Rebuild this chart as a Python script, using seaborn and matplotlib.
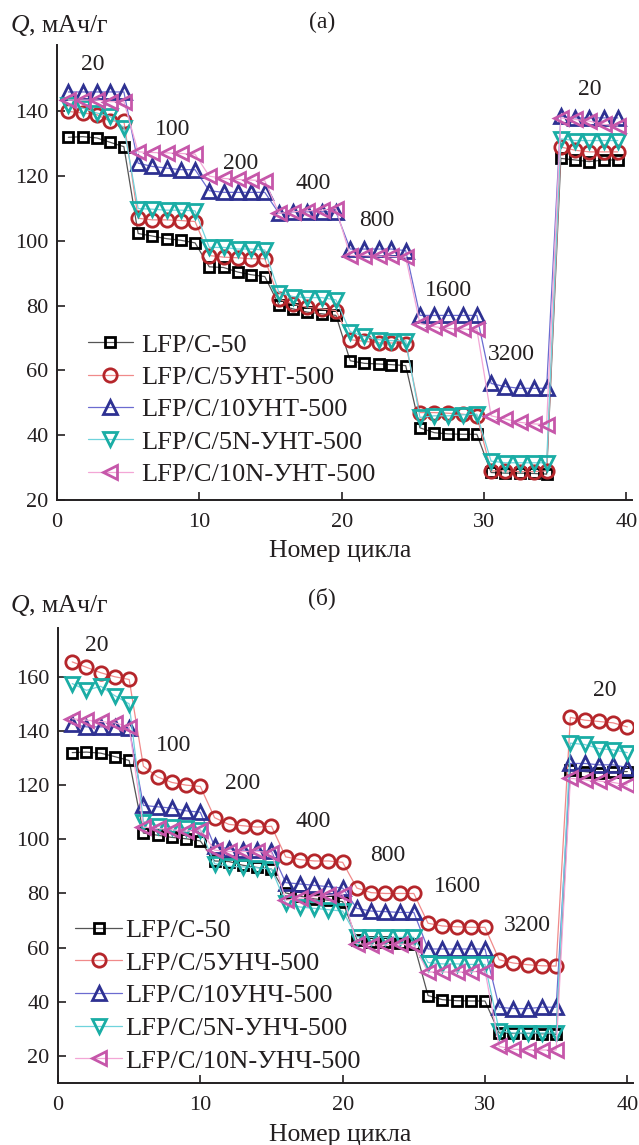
import numpy as np
import matplotlib
matplotlib.use("Agg")
import matplotlib.pyplot as plt
import seaborn as sns

# ---------------- data ----------------
cycles = list(range(1, 41))
# positions of cycles as they appear in panel (a)
cycle_pos_a = [0.8, 1.8, 2.8, 3.7, 4.7, 5.7, 6.7, 7.7, 8.7, 9.7,
               10.7, 11.7, 12.7, 13.6, 14.6, 15.6, 16.6, 17.6, 18.6, 19.6,
               20.6, 21.6, 22.6, 23.5, 24.5, 25.5, 26.5, 27.5, 28.5, 29.5,
               30.5, 31.5, 32.5, 33.5, 34.4, 35.4, 36.4, 37.4, 38.4, 39.4]

rate_labels = ["20", "100", "200", "400", "800", "1600", "3200", "20"]
rate_x_a = [2.5, 8.1, 12.9, 18.0, 22.5, 27.5, 31.9, 37.4]
rate_y_a = [154.5, 134.3, 124.0, 117.8, 106.4, 84.7, 64.9, 146.7]
rate_x_b = [2.75, 8.1, 12.95, 17.95, 23.2, 28.1, 33.0, 38.4]
rate_y_b = [171.7, 134.8, 120.6, 106.5, 94.2, 82.5, 68.0, 155.1]

q_lfp_c50 = [132, 132.2, 131.8, 130.5, 129.1,
             102.3, 101.5, 100.7, 100.2, 99.4,
             92.0, 91.8, 90.4, 89.6, 89.0,
             80.2, 79.0, 78.0, 77.5, 77.0,
             63.0, 62.2, 62.0, 61.8, 61.5,
             42.3, 40.8, 40.4, 40.3, 40.3,
             28.5, 28.3, 28.3, 28.2, 28.0,
             125.5, 125.0, 124.5, 125.0, 125.0]

# panel (a)
labels_a = ["LFP/C-50", "LFP/C/5УНТ-500", "LFP/C/10УНТ-500",
            "LFP/C/5N-УНТ-500", "LFP/C/10N-УНТ-500"]
q_5unt = [140, 139.5, 139, 137, 137,
          107, 106.5, 106.5, 106.3, 106,
          95.5, 95, 94.8, 94.5, 94.5,
          82, 80.5, 79.5, 79, 78.5,
          69.5, 69, 68.5, 68.5, 68.3,
          47, 47, 46.8, 46.5, 46,
          29, 29, 28.8, 28.8, 29,
          129, 128, 127.5, 127.5, 127.5]
q_10unt = [146, 146, 146, 146, 146,
           124, 123, 122.5, 122, 122,
           115.5, 115, 115, 115, 115,
           108.5, 109, 109, 109, 109,
           97.5, 97.5, 97.5, 97.5, 97,
           77, 77, 77, 77, 77,
           56, 55, 54.5, 54.5, 54.5,
           138.5, 138, 138, 138, 138]
q_5nunt = [142, 141, 139.5, 138.5, 135,
           110, 109.8, 109.5, 109.5, 109.3,
           98, 98, 97.5, 97.5, 97.2,
           84, 82.8, 82.5, 82.5, 81.8,
           72, 70.5, 69.5, 69.2, 69.2,
           45.5, 46, 46, 46.3, 46.5,
           32, 31.5, 31.5, 31.5, 31.5,
           131.5, 131, 131, 131, 131]
q_10nunt = [143.5, 143.5, 143.5, 143, 143,
            127.5, 127.3, 127.2, 127, 126.8,
            120, 119.3, 119, 118.8, 118.6,
            108.5, 109, 109.3, 109.5, 110,
            95.5, 95.5, 95.3, 95.2, 95,
            74.5, 73.5, 73, 72.8, 72.7,
            46, 45, 44, 43.5, 43.3,
            138, 137.5, 137, 136, 135.5]

# panel (б)
labels_b = ["LFP/C-50", "LFP/C/5УНЧ-500", "LFP/C/10УНЧ-500",
            "LFP/C/5N-УНЧ-500", "LFP/C/10N-УНЧ-500"]
q_5unch = [165.5, 163.5, 161.5, 160, 159,
           127, 123, 121, 120, 119.5,
           108, 105.5, 105, 104.5, 104.8,
           93.5, 92.5, 92, 92, 91.5,
           82, 80.3, 80, 80, 80,
           69, 68, 67.7, 67.5, 67.5,
           55.5, 54.3, 53.7, 53.3, 53.2,
           145, 144, 143.5, 143, 141.5]
q_10unch = [142.5, 141.5, 141.5, 141.5, 141,
            112.5, 112, 111.5, 110.5, 110,
            97.5, 96.5, 96, 96, 95.5,
            84, 83.5, 83, 82.5, 82,
            74.5, 73.5, 73.3, 73, 73,
            59.5, 59.5, 59.5, 59.5, 59.5,
            38, 37.5, 37.5, 38, 38,
            128, 128, 127.5, 127.5, 126.5]
q_5nunch = [157.5, 155, 156.5, 153, 150,
            106.5, 105, 104.5, 104, 103.5,
            91, 90, 89.8, 89.5, 89,
            76.5, 75, 74.5, 74, 73.5,
            64, 63.8, 63.8, 63.8, 63.8,
            54.5, 54, 54, 53.8, 53.8,
            29.3, 28.5, 28.5, 28.5, 28.5,
            135.5, 135, 133.5, 133, 132]
q_10nunch = [144.5, 144, 143.5, 143, 141.5,
             104.5, 104, 103.5, 103, 103.5,
             96, 95.5, 95.5, 95.5, 95,
             77.5, 78.2, 78.8, 79.3, 79.8,
             61.5, 61, 61, 61.3, 61,
             51, 51, 51, 51, 51.5,
             23.5, 22.5, 22.3, 22.2, 22.2,
             122.5, 122, 121.5, 121, 120]

# ---------------- style ----------------
sns.set_style("ticks")
plt.rcParams["font.family"] = ["Liberation Serif", "DejaVu Serif"]
plt.rcParams["mathtext.fontset"] = "custom"
plt.rcParams["mathtext.it"] = "Liberation Serif:italic"
plt.rcParams["mathtext.rm"] = "Liberation Serif"

TXT = "#231f20"
FS_TICK = 16
FS_RATE = 17
FS_LEG = 19
FS_LAB = 18.5
markers = ["s", "o", "^", "v", "<"]
mec = ["#000000", "#b5262b", "#2e3192", "#1aada5", "#c657aa"]
lc = ["#555555", "#f08a8a", "#6b6bd0", "#6fd3dc", "#f3a6d6"]
msz = [7.6, 9.6, 10.5, 10.5, 10.5]

fig = plt.figure(figsize=(6.39, 11.45), dpi=100)
ax1 = fig.add_axes([57 / 639, 0.5633, (632 - 57) / 639, 0.3974])
ax2 = fig.add_axes([58 / 639, 0.0541, (633 - 58) / 639, 0.3974])


def draw(ax, xs, series, labels):
    for i, (q, lab) in enumerate(zip(series, labels)):
        sns.lineplot(x=xs, y=q, ax=ax, label=lab, color=lc[i],
                     linewidth=0.9, marker=markers[i], markersize=msz[i],
                     markerfacecolor="none", markeredgecolor=mec[i],
                     markeredgewidth=2.0, sort=False, estimator=None,
                     zorder=3 + i)


draw(ax1, cycle_pos_a, [q_lfp_c50, q_5unt, q_10unt, q_5nunt, q_10nunt], labels_a)
draw(ax2, cycles, [q_lfp_c50, q_5unch, q_10unch, q_5nunch, q_10nunch], labels_b)

ax1.set_xlim(0, 40.4)
ax1.set_ylim(20, 160.5)
ax1.set_yticks([20, 40, 60, 80, 100, 120, 140])
ax2.set_xlim(0, 40.4)
ax2.set_ylim(10, 178)
ax2.set_yticks([20, 40, 60, 80, 100, 120, 140, 160])

for ax in (ax1, ax2):
    ax.set_xticks([0, 10, 20, 30, 40])
    sns.despine(ax=ax)
    for s in ("left", "bottom"):
        ax.spines[s].set_linewidth(1.4)
        ax.spines[s].set_color(TXT)
    ax.tick_params(direction="in", length=6, width=1.2, colors=TXT,
                   labelsize=FS_TICK, labelcolor=TXT)
    ax.tick_params(axis="y", pad=6)
    ax.tick_params(axis="x", pad=9)
    ax.set_xlabel("")
    ax.set_ylabel("")

for ax, rx, ry in ((ax1, rate_x_a, rate_y_a), (ax2, rate_x_b, rate_y_b)):
    for t, x, y in zip(rate_labels, rx, ry):
        ax.text(x, y, t, ha="center", va="center", fontsize=FS_RATE, color=TXT)

leg1 = ax1.legend(loc="upper left", bbox_to_anchor=(0.035, 0.39), frameon=False,
                  fontsize=FS_LEG, handlelength=1.7, handletextpad=0.34,
                  labelspacing=0.335, borderaxespad=0)
leg2 = ax2.legend(loc="upper left", bbox_to_anchor=(0.012, 0.385), frameon=False,
                  fontsize=FS_LEG, handlelength=1.78, handletextpad=0.11,
                  labelspacing=0.35, borderaxespad=0)
for leg in (leg1, leg2):
    for t in leg.get_texts():
        t.set_color(TXT)

# figure texts
fig.text(10 / 639, 1 - 25 / 1145, r"$Q$, мАч/г", fontsize=FS_LAB, color=TXT,
         ha="left", va="center")
fig.text(322 / 639, 1 - 22 / 1145, "(a)", fontsize=FS_RATE, color=TXT,
         ha="center", va="center")
fig.text(340 / 639, 1 - 551 / 1145, "Номер цикла", fontsize=FS_LAB, color=TXT,
         ha="center", va="center")
fig.text(10 / 639, 1 - 605 / 1145, r"$Q$, мАч/г", fontsize=FS_LAB, color=TXT,
         ha="left", va="center")
fig.text(322 / 639, 1 - 598 / 1145, "(б)", fontsize=FS_RATE, color=TXT,
         ha="center", va="center")
fig.text(340 / 639, 1 - 1135 / 1145, "Номер цикла", fontsize=FS_LAB, color=TXT,
         ha="center", va="center")

fig.savefig("out.png", dpi=100)
